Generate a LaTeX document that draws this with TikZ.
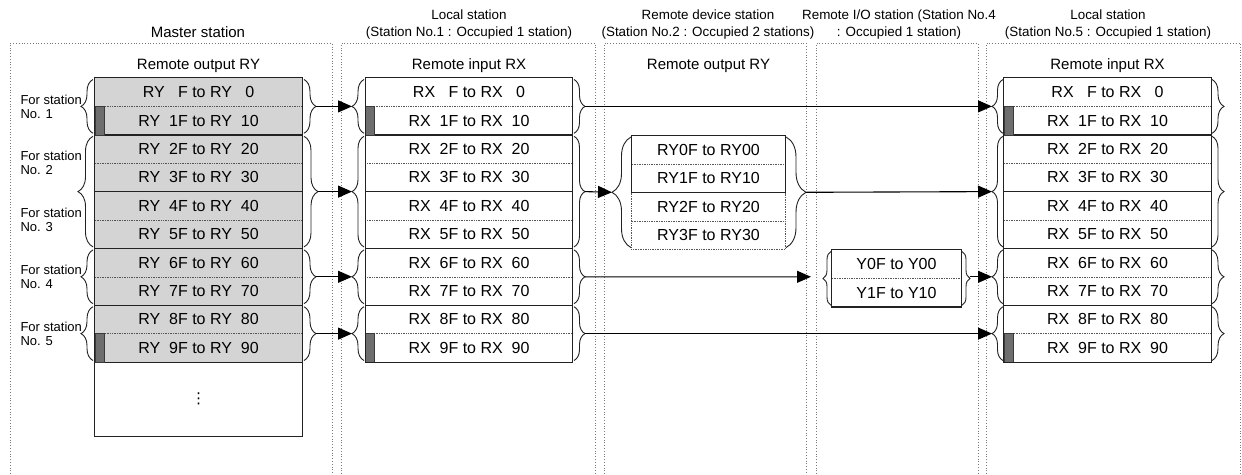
\documentclass[tikz,border=0pt]{standalone}
\usepackage{fontspec}
\setmainfont{Liberation Sans}
\newfontfamily\symfont{DejaVu Sans}
\usetikzlibrary{arrows.meta,decorations.pathreplacing,calc}
\definecolor{cellgray}{HTML}{D4D4D4}
\definecolor{markcol}{HTML}{6E6E6E}
\definecolor{markedge}{HTML}{3A3A3A}
\definecolor{framecol}{HTML}{7A7A7A}
\definecolor{linecol}{HTML}{222222}
\definecolor{sepcol}{HTML}{555555}
\newcommand\tabfont{\fontsize{16}{19}\selectfont}
\newcommand\hdrfont{\fontsize{15}{18}\selectfont}
\newcommand\ttlfont{\fontsize{13.4}{17}\selectfont}
\newcommand\mttlfont{\fontsize{15}{18}\selectfont}
\newcommand\lblfont{\fontsize{13}{14}\selectfont}
\newcommand\rng[2]{#1\ \ #2F to #1\ \ #20}
% brace helpers: name, x, top, bottom, amplitude
\newcommand\bracel[5]{%
  \draw[brc=#5pt] (#2,#4-1.5) -- (#2,#3+1.5);
  \coordinate (#1) at ({#2-#5},{(#3+#4)/2});}
\newcommand\bracer[5]{%
  \draw[brc=#5pt] (#2,#3+1.5) -- (#2,#4-1.5);
  \coordinate (#1) at ({#2+#5},{(#3+#4)/2});}
\begin{document}
\begin{tikzpicture}[x=1pt,y=-1pt,
  cell/.style={inner sep=0pt, minimum height=28.4, font=\tabfont},
  mcell/.style={cell, minimum width=207},
  dcell/.style={cell, minimum width=153},
  ycell/.style={cell, minimum width=129},
  tline/.style={draw=linecol, line width=1.3pt},
  sep/.style={draw=sepcol, line width=0.7pt, densely dotted},
  frame/.style={draw=framecol, line width=0.8pt, dotted},
  brc/.style={draw=linecol, line width=0.9pt, decorate, decoration={brace, amplitude=#1}},
  brc/.default=12pt,
  arr/.style={draw=black, line width=1.1pt, -{Triangle[length=14pt,width=12pt]}},
  marker/.style={fill=markcol, draw=markedge, line width=0.6pt, minimum width=9, minimum height=28.4, inner sep=0pt, anchor=north west},
  hdr/.style={font=\hdrfont},
  ttl/.style={font=\ttlfont, align=center},
  lbl/.style={font=\lblfont, align=left, anchor=west}]
\useasboundingbox (0,0) rectangle (1242,474);

% ---------- frames ----------
\draw[frame] (10,474) -- (10,43.3) -- (332,43.3) -- (332,474);
\draw[frame] (341,474) -- (341,43.3) -- (595,43.3) -- (595,474);
\draw[frame] (604,474) -- (604,43.3) -- (806,43.3) -- (806,474);
\draw[frame] (816,474) -- (816,43.3) -- (978,43.3) -- (978,474);
\draw[frame] (986,474) -- (986,43.3) -- (1240.5,43.3) -- (1240.5,474);

% ---------- titles ----------
\node[font=\mttlfont] (tm) at (198,32) {Master station};
\node[ttl] (t1) at (469,24.5) {Local station\\(Station No.1 : Occupied 1 station)};
\node[ttl] (t2) at (708,24.5) {Remote device station\\(Station No.2 : Occupied 2 stations)};
\node[ttl] (t3) at (899,24.5) {Remote I/O station (Station No.4\\: Occupied 1 station)};
\node[ttl] (t4) at (1108,24.5) {Local station\\(Station No.5 : Occupied 1 station)};

\node[hdr] (hm) at (198.5,66) {Remote output RY};
\node[hdr] (h1) at (469,66) {Remote input RX};
\node[hdr] (h2) at (708.5,66) {Remote output RY};
\node[hdr] (h4) at (1107.5,66) {Remote input RX};

% ---------- master table ----------
\fill[cellgray] (95,78) rectangle (302,362);
\node[mcell] (m1) at (198.5,92.2) {\rng{RY}{\ }};
\node[mcell] (m2) at (198.5,120.6) {\rng{RY}{1}};
\node[mcell] (m3) at (198.5,149.0) {\rng{RY}{2}};
\node[mcell] (m4) at (198.5,177.4) {\rng{RY}{3}};
\node[mcell] (m5) at (198.5,205.8) {\rng{RY}{4}};
\node[mcell] (m6) at (198.5,234.2) {\rng{RY}{5}};
\node[mcell] (m7) at (198.5,262.6) {\rng{RY}{6}};
\node[mcell] (m8) at (198.5,291.0) {\rng{RY}{7}};
\node[mcell] (m9) at (198.5,319.4) {\rng{RY}{8}};
\node[mcell] (m10) at (198.5,347.8) {\rng{RY}{9}};
\node[mcell, minimum height=74] (mb) at (198.5,399) {\symfont\fontsize{15}{15}\selectfont ⋮};
\foreach \r in {1,3,5,7,9} \draw[sep] (m\r.south west) -- (m\r.south east);
\foreach \r in {2,4,6,8,10} \draw[tline] (m\r.south west) -- (m\r.south east);
\node[marker] (mk1) at (m2.north west) {};
\node[marker] (mk2) at (m10.north west) {};
\draw[tline] (m1.north west) rectangle (mb.south east);

% ---------- local station 1 ----------
\node[mcell] (l1) at (469,92.2) {\rng{RX}{\ }};
\node[mcell] (l2) at (469,120.6) {\rng{RX}{1}};
\node[mcell] (l3) at (469,149.0) {\rng{RX}{2}};
\node[mcell] (l4) at (469,177.4) {\rng{RX}{3}};
\node[mcell] (l5) at (469,205.8) {\rng{RX}{4}};
\node[mcell] (l6) at (469,234.2) {\rng{RX}{5}};
\node[mcell] (l7) at (469,262.6) {\rng{RX}{6}};
\node[mcell] (l8) at (469,291.0) {\rng{RX}{7}};
\node[mcell] (l9) at (469,319.4) {\rng{RX}{8}};
\node[mcell] (l10) at (469,347.8) {\rng{RX}{9}};
\foreach \r in {1,3,5,7,9} \draw[sep] (l\r.south west) -- (l\r.south east);
\foreach \r in {2,4,6,8} \draw[tline] (l\r.south west) -- (l\r.south east);
\node[marker] (lk1) at (l2.north west) {};
\node[marker] (lk2) at (l10.north west) {};
\draw[tline] (l1.north west) rectangle (l10.south east);

% ---------- local station 5 ----------
\node[mcell] (r1) at (1107.5,92.2) {\rng{RX}{\ }};
\node[mcell] (r2) at (1107.5,120.6) {\rng{RX}{1}};
\node[mcell] (r3) at (1107.5,149.0) {\rng{RX}{2}};
\node[mcell] (r4) at (1107.5,177.4) {\rng{RX}{3}};
\node[mcell] (r5) at (1107.5,205.8) {\rng{RX}{4}};
\node[mcell] (r6) at (1107.5,234.2) {\rng{RX}{5}};
\node[mcell] (r7) at (1107.5,262.6) {\rng{RX}{6}};
\node[mcell] (r8) at (1107.5,291.0) {\rng{RX}{7}};
\node[mcell] (r9) at (1107.5,319.4) {\rng{RX}{8}};
\node[mcell] (r10) at (1107.5,347.8) {\rng{RX}{9}};
\foreach \r in {1,3,5,7,9} \draw[sep] (r\r.south west) -- (r\r.south east);
\foreach \r in {2,4,6,8} \draw[tline] (r\r.south west) -- (r\r.south east);
\node[marker] (rk1) at (r2.north west) {};
\node[marker] (rk2) at (r10.north west) {};
\draw[tline] (r1.north west) rectangle (r10.south east);

% ---------- remote device station ----------
\node[dcell] (d1) at (708.5,149.7) {RY0F to RY00};
\node[dcell] (d2) at (708.5,178.1) {RY1F to RY10};
\node[dcell] (d3) at (708.5,206.5) {RY2F to RY20};
\node[dcell] (d4) at (708.5,234.9) {RY3F to RY30};
\draw[sep] (d1.south west) -- (d1.south east);
\draw[sep] (d3.south west) -- (d3.south east);
\draw[sep] (d2.south west) -- (d4.south west) -- (d4.south east) -- (d2.south east);
\draw[tline] (d1.north west) rectangle (d2.south east);

% ---------- remote I/O station ----------
\node[ycell] (y1) at (896.5,264.2) {Y0F to Y00};
\node[ycell] (y2) at (896.5,292.6) {Y1F to Y10};
\draw[sep] (y1.south west) -- (y1.south east);
\draw[tline] (y1.north west) rectangle (y2.south east);

% ---------- labels ----------
\node[lbl] (s1) at (17,106.4) {For station\\No. 1};
\node[lbl] (s2) at (17,163.2) {For station\\No. 2};
\node[lbl] (s3) at (17,220.0) {For station\\No. 3};
\node[lbl] (s4) at (17,276.8) {For station\\No. 4};
\node[lbl] (s5) at (17,333.6) {For station\\No. 5};

% ---------- braces ----------
\bracel{mL1}{93}{78}{134.8}{12}
\bracel{mL2}{93}{134.8}{248.4}{15}
\bracel{mL3}{93}{248.4}{305.2}{12}
\bracel{mL4}{93}{305.2}{362}{12}
\bracer{mR1}{304}{78}{134.8}{12}
\bracer{mR2}{304}{134.8}{248.4}{14}
\bracer{mR3}{304}{248.4}{305.2}{12}
\bracer{mR4}{304}{305.2}{362}{12}

\bracel{lL1}{364}{78}{134.8}{12}
\bracel{lL2}{364}{134.8}{248.4}{12}
\bracel{lL3}{364}{248.4}{305.2}{12}
\bracel{lL4}{364}{305.2}{362}{12}
\bracer{lR1}{574}{78}{134.8}{11}
\bracer{lR2}{574}{134.8}{248.4}{11}
\bracer{lR3}{574}{248.4}{305.2}{11}
\bracer{lR4}{574}{305.2}{362}{11}

\bracel{rL1}{1003}{78}{134.8}{11}
\bracel{rL2}{1003}{134.8}{248.4}{11}
\bracel{rL3}{1003}{248.4}{305.2}{11}
\bracel{rL4}{1003}{305.2}{362}{11}
\bracer{rR1}{1212}{78}{134.8}{12}
\bracer{rR2}{1212}{134.8}{248.4}{12}
\bracer{rR3}{1212}{248.4}{305.2}{12}
\bracer{rR4}{1212}{305.2}{362}{12}

\bracel{dL}{631}{135.5}{249.1}{19}
\bracer{dR}{786}{135.5}{249.1}{20}
\bracel{yL}{831}{250}{306.8}{8}
\bracer{yR}{962}{250}{306.8}{8}
\coordinate (yIn) at (811,276.8);

% ---------- arrows ----------
\draw[arr] (mR1) -- (lL1);
\draw[arr] (mR2) -- (lL2);
\draw[arr] (mR3) -- (lL3);
\draw[arr] (mR4) -- (lL4);
\draw[arr] (lR1) -- (rL1);
\draw[arr] (lR2) -- (dL);
\draw[arr] (dR) -- (rL2);
\draw[arr] (lR3) -- (yIn);
\draw[arr] (yR |- rL3) -- (rL3);
\draw[arr] (lR4) -- (rL4);
\end{tikzpicture}
\end{document}
